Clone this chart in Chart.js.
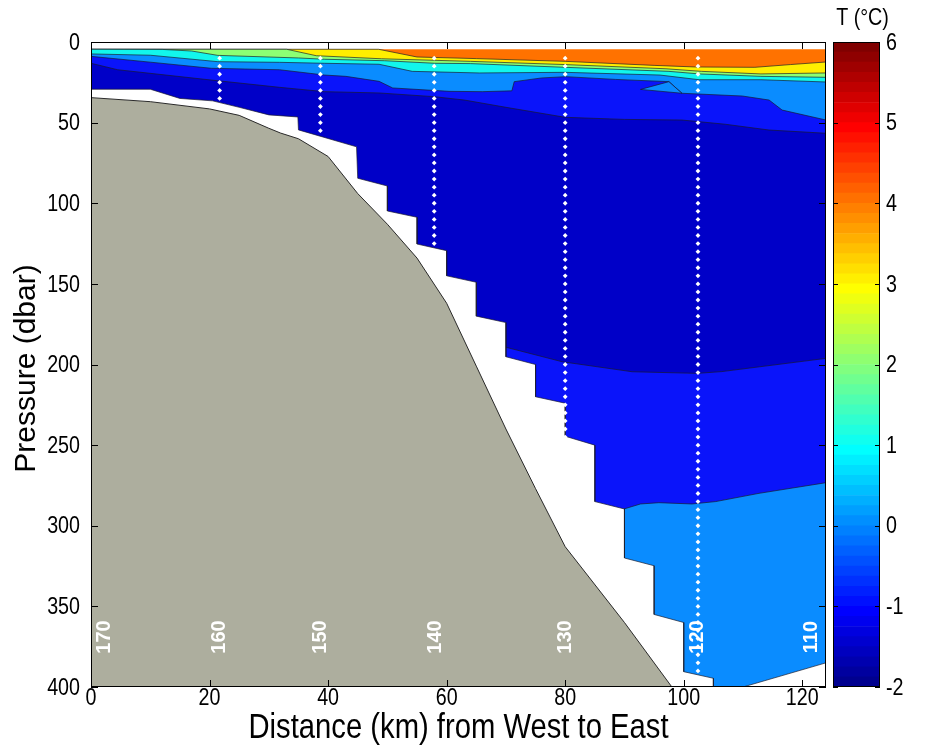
<!DOCTYPE html>
<html>
<head>
<meta charset="utf-8">
<script src="https://cdn.jsdelivr.net/npm/chart.js@4.4.0/dist/chart.umd.min.js"></script>
<style>
  html, body { margin: 0; padding: 0; background: #fff; }
  #wrap { position: relative; width: 929px; height: 756px; overflow: hidden; }
  #section { position: absolute; left: 0; top: 0; }
  #cbar { position: absolute; left: 826px; top: 0; }
</style>
</head>
<body>
<div id="wrap">
  <canvas id="section" width="929" height="756"></canvas>
  <canvas id="cbar" width="103" height="756"></canvas>
</div>
<script>
// ---- Section data: distance (km), pressure (dbar) ----
// Upper edge of each temperature band, listed from the surface downward
const surfaceTop    = [[0,4.5],[124,4.5]];
const orangeBase    = [[0,4.5],[48.5,4.5],[55,9.3],[65,10.3],[80,12],[95,14.5],[102,15.5],[112,15.7],[118,14],[124,12.4]];
const yellowBase    = [[0,4.5],[33,4.5],[38,8.5],[49,10.4],[64,12],[80,14],[97,16.6],[103,18.2],[113,19.8],[124,19.2]];
const greenBase     = [[0,4.5],[12,4.6],[17,5.6],[21.4,8.3],[35,9.9],[39.4,10.7],[49.5,11.6],[58,13.2],[64,13.4],[80,15.7],[97.5,18.2],[102.6,19.8],[113,21.3],[124,21.9]];
const cyanBase      = [[0,7.4],[10,8.2],[21.4,12.2],[31.8,12.6],[39.4,13.2],[48.6,13.8],[54.2,18.2],[65.5,19.2],[80,18.8],[96,20.5],[102.6,23.4],[113,23.4],[124,24.8]];
const lightBlueBase = [[0,8.9],[10,12.5],[20.3,16.3],[31.8,17.2],[39.4,20.5],[43,21.3],[48.6,24.4],[50.9,28.5],[60.4,30.6],[66,30.8],[71,30.3],[71.4,24.6],[76,22.3],[80.1,21.5],[88.5,23.2],[97.5,24.6],[99.7,31.8],[109.9,33.5],[114.4,36],[116.6,42.2],[124,48.4]];
const lightBlueWedge = [[92.7,29.4],[97.5,24.6],[99.7,31.8],[92.7,29.4]];
const blueBase      = [[0,13.2],[4.5,17.2],[20.3,23.6],[31.8,28.1],[39.4,30.8],[48.6,31.6],[57.9,33.9],[63,36],[70,40.5],[80,46.7],[90,48],[99.7,48.4],[107,51],[114.4,54.6],[124,56.6]];
const darkBlueBase  = [[40,180],[60,185],[70,189.3],[79.5,198.3],[91.3,204.5],[102.3,205.5],[106.4,204.4],[124,196.2]];
const deepBlueBase  = [[80,290],[89.9,289.6],[92.7,286.5],[95.8,285.7],[101.4,286.5],[105.4,285],[112.7,279.9],[124,273.3]];

// Deepest gridded value at each distance (below it: no data)
const dataFloor = [[0,29.3],[10,29.3],[15,35],[20.5,36.5],[25,40.5],[30,45.2],[34.9,46.5],[35,54.5],[44.8,65],[45,84.5],[50,89.3],[50,104.8],[55,108.7],[55,125.3],[60,129.4],[60,145],[65,149],[65,170],[70,174],[70,195.2],[75,200],[75,220],[80,224],[80,244.5],[85,250],[85,285],[90,289.6],[90,320],[95,324.8],[95,355],[100,360],[100,390.5],[105,394.6],[105,400],[110,400],[124,385]];

// Sea floor
const seaFloor = [[0,34.5],[10,37],[20,41.5],[25,45.5],[30,53.5],[32,56.5],[35,60],[40,71],[45,94],[50,113],[55,134],[60,162],[65,201],[70,240],[75,277],[80,313],[90,360],[98,400]];

// CTD casts
const castKm      = [21.7, 38.7, 57.9, 80.0, 102.4];
const castDeepest = [35, 55, 125, 245, 390];
const castFirst = 10, castStep = 5;

// Station labels
const stationNames = ['170','160','150','140','130','120','110'];
const stationKm    = [2.3, 21.7, 38.8, 58.1, 80.0, 102.4, 121.6];
const stationLabelP = 369;

// Axis ticks / ranges and titles
const xMin = 0, xMax = 124, xStep = 20;
const yMin = 0, yMax = 400, yStep = 50;
const tMin = -2, tMax = 6, tStep = 1, nColors = 64;
const xTitle = 'Distance (km) from West to East';
const yTitle = 'Pressure (dbar)';
const cbarTitle = 'T (°C)';

// ---- helpers ----
const FONT = "'Liberation Sans', Arial, Helvetica, sans-serif";
const NARROW = 0.82;  // horizontal squeeze of upright text
const pts = arr => arr.map(([x, y]) => ({x, y}));
const EDGE = 'rgba(25,25,40,0.75)';

function text(ctx, s, x, y, o) {
  ctx.save();
  ctx.font = `${o.bold ? 'bold ' : ''}${o.size}px ${FONT}`;
  ctx.fillStyle = o.color || '#000';
  ctx.textAlign = o.align || 'center';
  ctx.textBaseline = o.baseline || 'middle';
  ctx.translate(x, y);
  if (o.rotate) ctx.rotate(o.rotate);
  if (o.sx) ctx.scale(o.sx, 1);
  ctx.fillText(s, 0, 0);
  ctx.restore();
}

function band(label, top, color, edge) {
  return {
    label, data: pts(top), backgroundColor: color, borderColor: edge ? EDGE : 'rgba(0,0,0,0)',
    borderWidth: edge ? 0.9 : 0, fill: {value: yMax}, pointRadius: 0, tension: 0
  };
}

const castPoints = [];
castKm.forEach((km, i) => {
  for (let p = castFirst; p <= castDeepest[i]; p += castStep) castPoints.push({x: km, y: p});
});

// painter's order: first entry is drawn first
const layers = [
  band('orange', surfaceTop, '#FF7200', false),
  band('yellow', orangeBase, '#FFEE00', true),
  band('green', yellowBase, '#8CFF74', true),
  band('cyan', greenBase, '#12F6EC', true),
  band('lightblue', cyanBase, '#0A8CFF', true),
  band('blue', lightBlueBase, '#0A14FA', true),
  {label: 'wedge', data: pts(lightBlueWedge), backgroundColor: '#0A8CFF', borderColor: EDGE, borderWidth: 0.9, fill: 'shape', pointRadius: 0, tension: 0},
  band('darkblue', blueBase, '#0000C8', true),
  band('blue2', darkBlueBase, '#0A14FA', true),
  band('lightblue2', deepBlueBase, '#0A8CFF', true),
  band('nodata', dataFloor, '#FFFFFF', true),
  {label: 'floor', data: pts(seaFloor), backgroundColor: '#ADAE9E', borderColor: '#2a2a2a', borderWidth: 1, fill: {value: yMax}, pointRadius: 0, tension: 0},
  {label: 'casts', data: castPoints, showLine: false, pointStyle: 'rectRot', pointRadius: 2.4, pointBackgroundColor: '#FFFFFF', pointBorderWidth: 0, borderWidth: 0, fill: false}
];
layers.forEach((d, i) => { d.order = layers.length - i; });

const decor = {
  id: 'decor',
  afterDatasetsDraw(chart) {
    const {ctx, chartArea: a, scales: {x, y}} = chart;
    ctx.save();
    ctx.beginPath(); ctx.rect(a.left, a.top, a.right - a.left, a.bottom - a.top); ctx.clip();
    stationNames.forEach((s, i) => {
      text(ctx, s, x.getPixelForValue(stationKm[i]), y.getPixelForValue(stationLabelP),
           {size: 20, bold: true, color: '#FFFFFF', rotate: -Math.PI / 2});
    });
    ctx.restore();
    // frame and inward ticks
    ctx.save();
    ctx.strokeStyle = '#000'; ctx.lineWidth = 1;
    const L = 7;
    ctx.beginPath();
    x.ticks.forEach(t => {
      const px = Math.round(x.getPixelForValue(t.value)) + 0.5;
      ctx.moveTo(px, a.bottom); ctx.lineTo(px, a.bottom - L);
      ctx.moveTo(px, a.top); ctx.lineTo(px, a.top + L);
    });
    y.ticks.forEach(t => {
      const py = Math.round(y.getPixelForValue(t.value)) + 0.5;
      ctx.moveTo(a.left, py); ctx.lineTo(a.left + L, py);
      ctx.moveTo(a.right, py); ctx.lineTo(a.right - L, py);
    });
    ctx.stroke();
    ctx.strokeRect(Math.round(a.left) + 0.5, Math.round(a.top) + 0.5, Math.round(a.right - a.left) - 1, Math.round(a.bottom - a.top) - 1);
    ctx.restore();
    // tick labels and axis titles
    x.ticks.forEach(t => text(ctx, String(t.value), x.getPixelForValue(t.value), a.bottom + 11, {size: 24, sx: NARROW}));
    y.ticks.forEach(t => text(ctx, String(t.value), a.left - 11, y.getPixelForValue(t.value) + 1, {size: 24, sx: NARROW, align: 'right'}));
    text(ctx, xTitle, (a.left + a.right) / 2, 738, {size: 35, sx: 0.835, baseline: 'alphabetic'});
    text(ctx, yTitle, 35, (a.top + a.bottom) / 2 + 4, {size: 30, rotate: -Math.PI / 2, baseline: 'alphabetic'});
  }
};

new Chart(document.getElementById('section'), {
  type: 'line',
  data: {datasets: layers},
  options: {
    responsive: false, animation: false, devicePixelRatio: 1,
    layout: {padding: {left: 0, right: 103, top: 42, bottom: 0}},
    plugins: {legend: {display: false}, tooltip: {enabled: false}, filler: {propagate: false}},
    scales: {
      x: {
        type: 'linear', min: xMin, max: xMax,
        ticks: {stepSize: xStep, includeBounds: false, display: false},
        grid: {display: false}, border: {display: false},
        afterFit(s) { s.height = 69; }
      },
      y: {
        type: 'linear', reverse: true, min: yMin, max: yMax,
        ticks: {stepSize: yStep, display: false},
        grid: {display: false}, border: {display: false},
        afterFit(s) { s.width = 91; }
      }
    }
  },
  plugins: [decor]
});

// ---- colour bar ----
function jetColor(i, m) {
  const n = Math.ceil(m / 4);
  const u = [];
  for (let k = 1; k <= n; k++) u.push(k / n);
  for (let k = 1; k < n; k++) u.push(1);
  for (let k = n; k >= 1; k--) u.push(k / n);
  const gOff = Math.ceil(n / 2) - (m % 4 === 1 ? 1 : 0);
  const idx = i + 1;
  const pick = s => { const k = idx - s; return (k >= 1 && k <= u.length) ? u[k - 1] : 0; };
  const r = pick(gOff + n), g = pick(gOff), b = pick(gOff - n);
  return `rgb(${Math.round(r * 255)},${Math.round(g * 255)},${Math.round(b * 255)})`;
}
const dT = (tMax - tMin) / nColors;
const cbarSets = [];
for (let i = 0; i < nColors; i++) {
  cbarSets.push({data: [[tMin + i * dT, tMin + (i + 1) * dT]], backgroundColor: jetColor(i, nColors), borderWidth: 0});
}

const cbarDecor = {
  id: 'cbarDecor',
  afterDatasetsDraw(chart) {
    const {ctx, chartArea: a, scales: {y}} = chart;
    ctx.save();
    ctx.strokeStyle = '#000'; ctx.lineWidth = 1;
    ctx.beginPath();
    y.ticks.forEach(t => {
      const py = Math.round(y.getPixelForValue(t.value)) + 0.5;
      ctx.moveTo(a.left, py); ctx.lineTo(a.left + 5, py);
      ctx.moveTo(a.right, py); ctx.lineTo(a.right - 5, py);
    });
    ctx.stroke();
    ctx.strokeRect(Math.round(a.left) + 0.5, Math.round(a.top) + 0.5, Math.round(a.right - a.left) - 1, Math.round(a.bottom - a.top) - 1);
    ctx.restore();
    y.ticks.forEach(t => text(ctx, String(t.value), a.right + 6, y.getPixelForValue(t.value) + 1, {size: 24, sx: NARROW, align: 'left'}));
    text(ctx, cbarTitle, (a.left + a.right) / 2 + 6, 25, {size: 24, sx: NARROW, baseline: 'alphabetic'});
  }
};

new Chart(document.getElementById('cbar'), {
  type: 'bar',
  data: {labels: ['T'], datasets: cbarSets},
  options: {
    responsive: false, animation: false, devicePixelRatio: 1,
    layout: {padding: {left: 7, right: 0, top: 42, bottom: 69}},
    datasets: {bar: {grouped: false, barPercentage: 1, categoryPercentage: 1}},
    plugins: {legend: {display: false}, tooltip: {enabled: false}},
    scales: {
      x: {display: false},
      y: {
        position: 'right', min: tMin, max: tMax,
        ticks: {stepSize: tStep, display: false},
        grid: {display: false}, border: {display: false},
        afterFit(s) { s.width = 49; }
      }
    }
  },
  plugins: [cbarDecor]
});
</script>
</body>
</html>
